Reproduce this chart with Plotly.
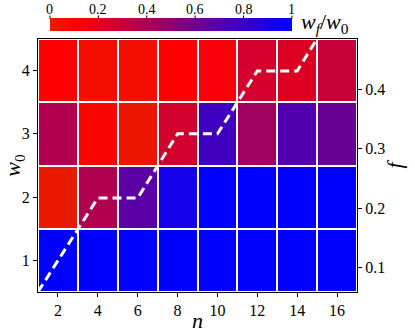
import plotly.graph_objects as go

# heatmap data: rows are w0 = 1..4, columns are n = 2..16
n_vals = [2, 4, 6, 8, 10, 12, 14, 16]
w0_vals = [1, 2, 3, 4]
wf_ratio = [
    [1.00, 1.00, 1.00, 1.00, 1.00, 1.00, 1.00, 1.00],
    [0.02, 0.38, 0.68, 0.93, 1.00, 1.00, 1.00, 1.00],
    [0.38, 0.08, 0.03, 0.26, 0.775, 0.435, 0.71, 0.63],
    [0.10, 0.06, 0.06, 0.10, 0.13, 0.25, 0.22, 0.30],
]

# dashed f(n) curve
line_n = [1, 4, 6, 8, 10, 12, 14, 16]
line_f = [0.059, 0.217, 0.217, 0.325, 0.325, 0.431, 0.431, 0.54]

cbar_ticks = [0, 0.2, 0.4, 0.6, 0.8, 1]
cbar_labels = ['0', '0.2', '0.4', '0.6', '0.8', '1']

FONT = "Liberation Serif"

# colorbar placement (paper coords relative to the plot area)
cb_x0, cb_x1 = 0.0376, 0.796
cb_y0, cb_y1 = 1.031, 1.081

fig = go.Figure()

fig.add_trace(go.Heatmap(
    x=n_vals, y=w0_vals, z=wf_ratio,
    zmin=0, zmax=1,
    colorscale=[[0, 'rgb(228,32,0)'], [0.1, 'rgb(255,0,0)'], [1, 'rgb(0,0,255)']],
    xgap=2, ygap=2,
    colorbar=dict(orientation='h', x=cb_x0, xanchor='left',
                  y=cb_y0, yanchor='bottom', len=cb_x1 - cb_x0,
                  thickness=13, xpad=0, ypad=0,
                  outlinewidth=0, ticks='', showticklabels=False),
))

fig.add_trace(go.Scatter(
    x=line_n, y=line_f, yaxis='y2', mode='lines',
    line=dict(color='white', width=3, dash='9px,5px'),
    showlegend=False, hoverinfo='skip',
))

# colorbar tick labels and ticks on top of the bar
for v, lab in zip(cbar_ticks, cbar_labels):
    xp = cb_x0 + v * (cb_x1 - cb_x0)
    fig.add_annotation(x=xp, y=cb_y1, xref='paper', yref='paper',
                       text=lab, showarrow=False, yanchor='bottom',
                       xanchor='center', yshift=0,
                       font=dict(family=FONT, size=14, color='black'))
    fig.add_shape(type='line', xref='paper', yref='paper',
                  x0=xp, x1=xp, y0=cb_y1, y1=cb_y1 + 0.012,
                  line=dict(color='black', width=1))

fig.add_annotation(x=0.818, y=1.062, xref='paper', yref='paper',
                   text='<i>w<sub>f</sub></i>/<i>w</i><sub>0</sub>',
                   showarrow=False, xanchor='left', yanchor='middle',
                   font=dict(family=FONT, size=22, color='black'))

axis_common = dict(showline=True, linecolor='black', linewidth=1,
                   ticks='outside', ticklen=4, tickcolor='black',
                   showgrid=False, zeroline=False, automargin=False,
                   tickfont=dict(family=FONT, size=16, color='black'))

fig.update_layout(
    width=415, height=334,
    margin=dict(l=38, r=58, t=34, b=42),
    plot_bgcolor='white', paper_bgcolor='white',
    showlegend=False,
    xaxis=dict(range=[1, 17], tickvals=[2, 4, 6, 8, 10, 12, 14, 16],
               mirror=True,
               title=dict(text='<i>n</i>', standoff=0,
                          font=dict(family=FONT, size=22, color='black')),
               **axis_common),
    yaxis=dict(range=[0.5, 4.5], tickvals=[1, 2, 3, 4],
               title=dict(text='<i>w</i><sub>0</sub>', standoff=2,
                          font=dict(family=FONT, size=22, color='black')),
               **axis_common),
    yaxis2=dict(range=[0.0588, 0.4847], overlaying='y', side='right',
                tickvals=[0.1, 0.2, 0.3, 0.4],
                title=dict(text='<i>f</i>', standoff=8,
                           font=dict(family=FONT, size=22, color='black')),
                **axis_common),
)

fig.write_html("out.html", config={'displayModeBar': False},
               post_script="document.body.style.margin='0';")
